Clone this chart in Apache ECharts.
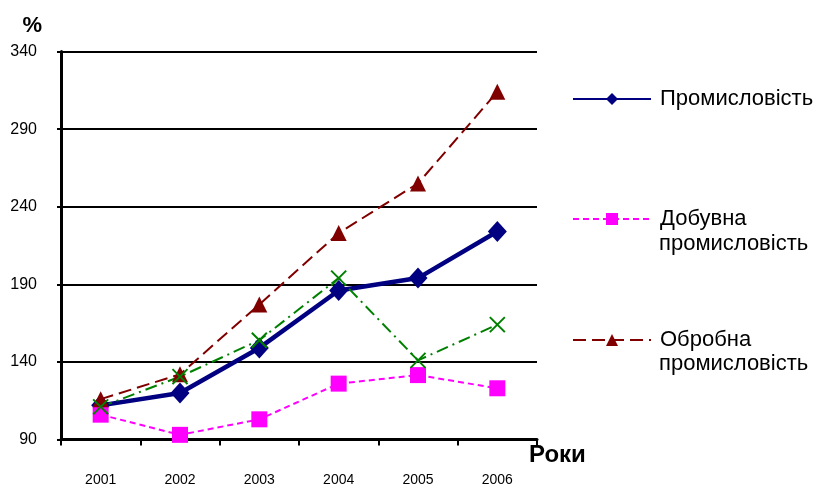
<!DOCTYPE html>
<html>
<head>
<meta charset="utf-8">
<script src="https://cdn.jsdelivr.net/npm/echarts@6/dist/echarts.min.js"></script>
<style>
html,body{margin:0;padding:0;background:#fff;}
#chart{width:825px;height:488px;}
</style>
</head>
<body>
<div id="chart"></div>
<script>
const years = ['2001', '2002', '2003', '2004', '2005', '2006'];
const yTicks = { min: 90, max: 340, step: 50 };
const industry = [112, 120, 149, 186, 194, 224];
const mining = [106, 93, 103, 126, 131.5, 123];
const manufacturing = [116, 132, 177, 223, 255, 314];
const other = [111, 130.5, 154, 194, 141, 164];

const names = ['Промисловість', 'Добувна промисловість', 'Обробна промисловість'];
const FONT = '"Liberation Sans", Arial, sans-serif';

const chart = echarts.init(document.getElementById('chart'), null, { renderer: 'canvas' });

function legendAt(name, top, label) {
  return {
    data: [name],
    left: 572,
    top: top,
    orient: 'vertical',
    itemWidth: 78,
    itemHeight: 15,
    selectedMode: false,
    padding: 0,
    formatter: function () { return label; },
    textStyle: { fontFamily: FONT, fontSize: 22, color: '#000', padding: [0, 0, 0, 4] },
    lineStyle: { width: 2 }
  };
}

chart.setOption({
  animation: false,
  backgroundColor: '#fff',
  grid: { left: 61, right: 288, top: 51.5, bottom: 48.5, containLabel: false },
  legend: [
    legendAt(names[0], 88, 'Промисловість'),
    legendAt(names[1], 208, 'Добувна'),
    legendAt(names[2], 329, 'Обробна')
  ],
  graphic: [
    { type: 'text', left: 659, top: 233, style: { text: 'промисловість', font: '22px ' + FONT, fill: '#000' } },
    { type: 'text', left: 659, top: 353, style: { text: 'промисловість', font: '22px ' + FONT, fill: '#000' } }
  ],
  xAxis: {
    type: 'category',
    data: years,
    boundaryGap: true,
    name: 'Роки',
    nameLocation: 'end',
    nameGap: -8,
    nameTextStyle: { fontFamily: FONT, fontSize: 24, fontWeight: 'bold', color: '#000', verticalAlign: 'top', padding: [4, 0, 0, 0] },
    axisLine: { lineStyle: { color: '#000', width: 3 } },
    axisTick: { show: true, length: 6, lineStyle: { color: '#000', width: 2 } },
    axisLabel: { fontFamily: FONT, fontSize: 14, color: '#000', margin: 34 },
    splitLine: { show: false }
  },
  yAxis: {
    type: 'value',
    min: yTicks.min,
    max: yTicks.max,
    interval: yTicks.step,
    name: '%',
    nameLocation: 'end',
    nameGap: 15,
    nameTextStyle: { fontFamily: FONT, fontSize: 22, fontWeight: 'bold', color: '#000', align: 'right', padding: [0, 19, 0, 0] },
    axisLine: { show: true, lineStyle: { color: '#000', width: 3 } },
    axisTick: { show: true, length: 4, lineStyle: { color: '#000', width: 2 } },
    axisLabel: { fontFamily: FONT, fontSize: 16, color: '#000', margin: 24, padding: [10, 0, 0, 0] },
    splitLine: { show: true, lineStyle: { color: '#000', width: 2 } }
  },
  series: [
    {
      name: names[0], type: 'line', data: industry,
      symbol: 'diamond', symbolSize: [19, 21],
      lineStyle: { color: '#000080', width: 4.5, type: 'solid' },
      itemStyle: { color: '#000080' }
    },
    {
      name: names[1], type: 'line', data: mining,
      symbol: 'rect', symbolSize: 16,
      lineStyle: { color: '#FF00FF', width: 2, type: [6, 4] },
      itemStyle: { color: '#FF00FF' }
    },
    {
      name: names[2], type: 'line', data: manufacturing,
      symbol: 'triangle', symbolSize: 16,
      lineStyle: { color: '#800000', width: 2, type: [13, 6] },
      itemStyle: { color: '#800000' }
    },
    {
      name: 'other', type: 'line', data: other,
      symbol: 'path://M0,0L10,10M10,0L0,10', symbolSize: 15,
      lineStyle: { color: '#008000', width: 2, type: [12, 5, 2, 5] },
      itemStyle: { color: 'rgba(0,0,0,0)', borderColor: '#008000', borderWidth: 2 }
    }
  ]
});
</script>
</body>
</html>
